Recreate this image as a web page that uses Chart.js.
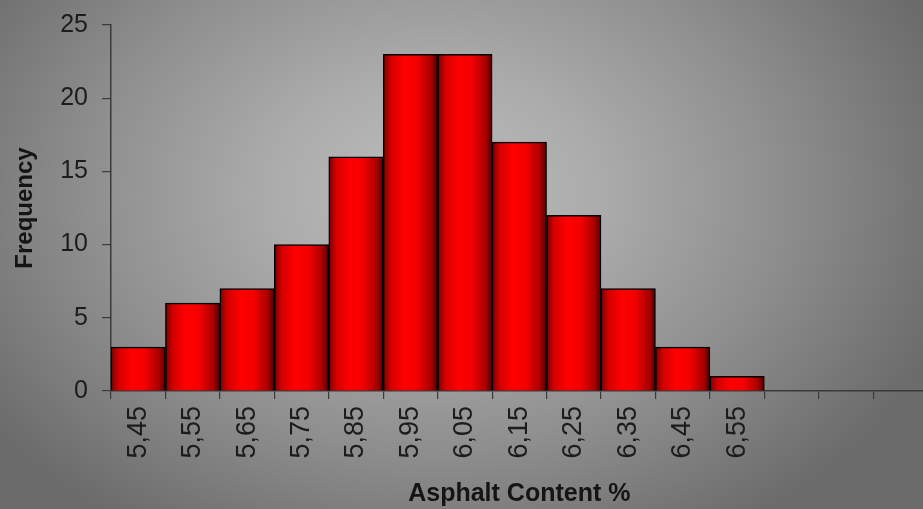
<!DOCTYPE html>
<html>
<head>
<meta charset="utf-8">
<script src="https://cdn.jsdelivr.net/npm/chart.js@4/dist/chart.umd.min.js"></script>
<style>
  html, body { margin: 0; padding: 0; width: 923px; height: 509px; overflow: hidden; }
  body {
    background:
      radial-gradient(ellipse 58% 78% at 47% 38%, #bdbdbd 0%, #acacac 30%, #8e8e8e 65%, #6c6c6c 100%);
  }
  #wrap { position: relative; width: 940px; height: 509px; }
</style>
</head>
<body>
<div id="wrap"><canvas id="c" width="940" height="509"></canvas></div>
<script>
// Asphalt content bins (%), with three empty bins trailing on the axis
const categories = ['5,45', '5,55', '5,65', '5,75', '5,85', '5,95', '6,05', '6,15', '6,25', '6,35', '6,45', '6,55', '', '', ''];
// Number of samples in each bin
const frequency = [3, 6, 7, 10, 16, 23, 23, 17, 12, 7, 3, 1, null, null, null];
const yTicks = [0, 5, 10, 15, 20, 25];

const FONT = "'Liberation Sans', Arial, sans-serif";

// Cylinder-like shading across each bar: dark edges, bright red middle
function barFill(ctx) {
  const chart = ctx.chart;
  const xs = chart.scales && chart.scales.x;
  if (!chart.chartArea || !xs || ctx.dataIndex === undefined) return '#ff0000';
  const cx = xs.getPixelForValue(ctx.dataIndex);
  const hw = xs.width / categories.length / 2;
  const g = chart.ctx.createLinearGradient(cx - hw, 0, cx + hw, 0);
  g.addColorStop(0, '#7a0000');
  g.addColorStop(0.14, '#d40000');
  g.addColorStop(0.38, '#ff0000');
  g.addColorStop(0.62, '#f40000');
  g.addColorStop(0.88, '#a80000');
  g.addColorStop(1, '#500000');
  return g;
}

new Chart(document.getElementById('c'), {
  type: 'bar',
  data: {
    labels: categories,
    datasets: [{
      data: frequency,
      backgroundColor: barFill,
      borderColor: '#000000',
      borderWidth: 1.5,
      barPercentage: 1.0,
      categoryPercentage: 1.0
    }]
  },
  options: {
    responsive: false,
    animation: false,
    layout: { padding: { top: 10, left: 8, right: 5, bottom: 0 } },
    plugins: { legend: { display: false }, tooltip: { enabled: false } },
    scales: {
      x: {
        offset: true,
        grid: {
          display: true,
          offset: true,
          drawOnChartArea: false,
          drawTicks: true,
          tickLength: 8,
          color: '#3a3a3a',
          lineWidth: 1.2
        },
        border: { display: true, color: '#3a3a3a', width: 1.5 },
        ticks: {
          autoSkip: false,
          minRotation: 90,
          maxRotation: 90,
          padding: 7,
          color: '#1c1c1c',
          font: { family: FONT, size: 27 }
        },
        title: {
          display: true,
          text: 'Asphalt Content %',
          color: '#141414',
          font: { family: FONT, size: 25, weight: 'bold' },
          padding: { top: 0, bottom: 0 }
        },
        afterFit: (s) => { s.height = 118; }
      },
      y: {
        min: 0,
        max: 25,
        afterBuildTicks: (s) => { s.ticks = yTicks.map(v => ({ value: v })); },
        grid: {
          display: true,
          drawOnChartArea: false,
          drawTicks: true,
          tickLength: 9,
          color: '#3a3a3a',
          lineWidth: 1.2
        },
        border: { display: true, color: '#3a3a3a', width: 1.5 },
        ticks: {
          padding: 14,
          color: '#1c1c1c',
          font: { family: FONT, size: 25, lineHeight: 0.88 }
        },
        title: {
          display: true,
          text: 'Frequency',
          color: '#141414',
          font: { family: FONT, size: 24, weight: 'bold' },
          padding: { top: 3, bottom: 0 }
        },
        afterFit: (s) => { s.width = 103; }
      }
    }
  }
});
</script>
</body>
</html>
